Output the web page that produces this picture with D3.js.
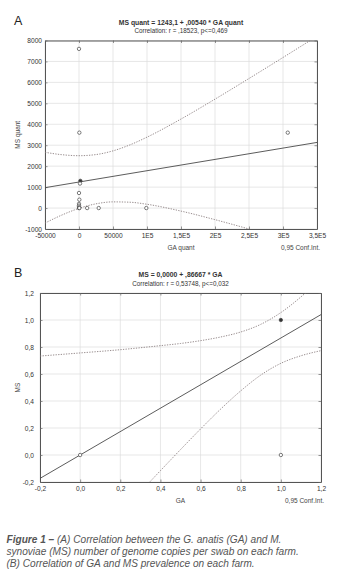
<!DOCTYPE html>
<html><head><meta charset="utf-8">
<script src="https://cdn.jsdelivr.net/npm/d3@7/dist/d3.min.js"></script>
<style>
body{margin:0;background:#fff}
svg{display:block}
text{font-family:"Liberation Sans",Arial,sans-serif}
</style>
</head><body>
<svg id="c" width="360" height="584"></svg>
<script>
// ---------- Panel A data ----------
const aXTicks = [-50000, 0, 50000, 100000, 150000, 200000, 250000, 300000, 350000];
const aXTickLabels = ["-50000", "0", "50000", "1E5", "1,5E5", "2E5", "2,5E5", "3E5", "3,5E5"];
const aYTicks = [-1000, 0, 1000, 2000, 3000, 4000, 5000, 6000, 7000, 8000];
const aYTickLabels = ["-1000", "0", "1000", "2000", "3000", "4000", "5000", "6000", "7000", "8000"];
const aGA = [0, 500, 307000, 2000, 2000, 1500, 0, 500, 0, 0, 0, 0, 0, 0, 500, 12000, 29000, 99000];
const aMS = [7600, 3600, 3600, 1300, 1300, 1170, 720, 400, 200, 120, 60, 0, 0, 0, 0, 0, 0, 0];
const aLineGA = [-50000, 350000];
const aLineMS = [973, 3133];
const aBandGA = [-50000, -25000, 0, 25000, 50000, 75000, 100000, 150000, 200000, 250000, 300000, 350000];
const aBandUpper = [2663, 2547, 2500, 2554, 2731, 3018, 3385, 4251, 5200, 6186, 7189, 8203];
const aBandLower = [-717, -331, -14, 202, 295, 278, 181, -145, -554, -1000, -1463, -1937];

// ---------- Panel B data ----------
const bTicks = [-0.2, 0, 0.2, 0.4, 0.6, 0.8, 1.0, 1.2];
const bTickLabels = ["-0,2", "0,0", "0,2", "0,4", "0,6", "0,8", "1,0", "1,2"];
const bGA = [0, 1, 1, 1, 1];
const bMS = [0, 1, 1, 1, 0];
const bLineGA = [-0.2, 1.2];
const bLineMS = [-0.1733, 1.04];
const bBandGA = [-0.2, 0, 0.2, 0.4, 0.5, 0.6, 0.7, 0.8, 0.9, 1.0, 1.1, 1.2];
const bBandUpper = [0.733, 0.756, 0.780, 0.810, 0.826, 0.847, 0.874, 0.911, 0.968, 1.055, 1.171, 1.307];
const bBandLower = [-1.08, -0.756, -0.434, -0.116, 0.040, 0.193, 0.340, 0.475, 0.592, 0.679, 0.735, 0.773];

const svg = d3.select("#c");

function panel(o) {
  const x = d3.scaleLinear().domain(o.xDomain).range([o.left, o.right]);
  const y = d3.scaleLinear().domain(o.yDomain).range([o.bottom, o.top]);
  const g = svg.append("g");
  const clipId = "clip" + o.id;
  svg.append("clipPath").attr("id", clipId).append("rect")
    .attr("x", o.left).attr("y", o.top).attr("width", o.right - o.left).attr("height", o.bottom - o.top);

  // grid
  g.append("g").selectAll("line").data(o.xTicks).join("line")
    .attr("x1", d => x(d)).attr("x2", d => x(d)).attr("y1", o.top).attr("y2", o.bottom)
    .attr("stroke", "#dcdcdc").attr("stroke-width", 0.7);
  g.append("g").selectAll("line").data(o.yTicks).join("line")
    .attr("y1", d => y(d)).attr("y2", d => y(d)).attr("x1", o.left).attr("x2", o.right)
    .attr("stroke", "#dcdcdc").attr("stroke-width", 0.7);

  // axes with inward ticks
  const ax = [
    d3.axisBottom(x).tickValues(o.xTicks).tickFormat((d, i) => o.xLabels[i]),
    d3.axisTop(x).tickValues(o.xTicks).tickFormat(""),
    d3.axisLeft(y).tickValues(o.yTicks).tickFormat((d, i) => o.yLabels[i]),
    d3.axisRight(y).tickValues(o.yTicks).tickFormat("")
  ];
  const gb = g.append("g").attr("transform", `translate(0,${o.bottom})`)
    .call(ax[0].tickSizeInner(-2.5).tickSizeOuter(0).tickPadding(o.xPad));
  const gt = g.append("g").attr("transform", `translate(0,${o.top})`)
    .call(ax[1].tickSizeInner(-2.5).tickSizeOuter(0));
  const gl = g.append("g").attr("transform", `translate(${o.left},0)`)
    .call(ax[2].tickSizeInner(-2.5).tickSizeOuter(0).tickPadding(o.yPad));
  const gr = g.append("g").attr("transform", `translate(${o.right},0)`)
    .call(ax[3].tickSizeInner(-2.5).tickSizeOuter(0));
  [gb, gt, gl, gr].forEach(s => {
    s.select(".domain").attr("stroke", "#555").attr("stroke-width", 1);
    s.selectAll(".tick line").attr("stroke", "#666").attr("stroke-width", 0.7);
    s.selectAll("text").attr("font-size", 6.6).attr("fill", "#333")
      .attr("font-family", '"Liberation Sans",Arial,sans-serif');
  });

  // band lines
  const cg = g.append("g").attr("clip-path", `url(#${clipId})`);
  const line = d3.line().x(d => x(d[0])).y(d => y(d[1])).curve(d3.curveMonotoneX);
  [o.bandUpper, o.bandLower].forEach(arr => {
    cg.append("path").datum(o.bandX.map((v, i) => [v, arr[i]]))
      .attr("d", line).attr("fill", "none").attr("stroke", "#85787a")
      .attr("stroke-width", 0.85).attr("stroke-dasharray", "1.3,1.3");
  });
  cg.append("path").datum(o.lineX.map((v, i) => [v, o.lineY[i]]))
    .attr("d", d3.line().x(d => x(d[0])).y(d => y(d[1])))
    .attr("fill", "none").attr("stroke", "#4a4a4a").attr("stroke-width", 0.9);

  // points (overlapping points drawn filled)
  const pts = o.px.map((v, i) => [v, o.py[i]]);
  const counts = d3.rollup(pts, v => v.length, d => d[0] + "|" + d[1]);
  const uniq = Array.from(counts, ([k, c]) => { const [a, b] = k.split("|"); return [+a, +b, c]; });
  g.append("g").selectAll("circle").data(uniq).join("circle")
    .attr("cx", d => x(d[0])).attr("cy", d => y(d[1])).attr("r", 1.7)
    .attr("fill", d => d[2] > 1 ? "#333" : "#fff").attr("stroke", "#444").attr("stroke-width", 0.7);

  // titles
  const cx = (o.left + o.right) / 2;
  svg.append("text").attr("x", cx).attr("y", o.top - 16).attr("text-anchor", "middle")
    .attr("font-size", 6.8).attr("font-weight", "bold").attr("fill", "#333").text(o.title1);
  svg.append("text").attr("x", cx).attr("y", o.top - 7.5).attr("text-anchor", "middle")
    .attr("font-size", 6.3).attr("fill", "#333").text(o.title2);
  svg.append("text").attr("x", 14).attr("y", o.top - 16).attr("font-size", 12.5).attr("fill", "#222").text(o.letter);
  svg.append("text").attr("x", cx).attr("y", o.bottom + 21).attr("text-anchor", "middle")
    .attr("font-size", 6.5).attr("fill", "#444").text(o.xTitle);
  svg.append("text").attr("x", o.right + 3).attr("y", o.bottom + 21).attr("text-anchor", "end")
    .attr("font-size", 6.5).attr("fill", "#444").text("0,95 Conf.Int.");
  svg.append("text").attr("transform", `translate(${o.yTitleX},${(o.top + o.bottom) / 2}) rotate(-90)`)
    .attr("text-anchor", "middle").attr("font-size", 6.5).attr("fill", "#444").text(o.yTitle);
}

panel({
  id: "A", left: 45, right: 317, top: 40.5, bottom: 229,
  xDomain: [-50000, 350000], yDomain: [-1000, 8000],
  xTicks: aXTicks, xLabels: aXTickLabels, yTicks: aYTicks, yLabels: aYTickLabels,
  xPad: 4, yPad: 3,
  px: aGA, py: aMS, lineX: aLineGA, lineY: aLineMS,
  bandX: aBandGA, bandUpper: aBandUpper, bandLower: aBandLower,
  title1: "MS quant = 1243,1 + ,00540 * GA quant",
  title2: "Correlation: r = ,18523, p<=0,469",
  letter: "A", xTitle: "GA quant", yTitle: "MS quant", yTitleX: 20
});

panel({
  id: "B", left: 40, right: 321, top: 293, bottom: 482,
  xDomain: [-0.2, 1.2], yDomain: [-0.2, 1.2],
  xTicks: bTicks, xLabels: bTickLabels, yTicks: bTicks, yLabels: bTickLabels,
  xPad: 4, yPad: 6,
  px: bGA, py: bMS, lineX: bLineGA, lineY: bLineMS,
  bandX: bBandGA, bandUpper: bBandUpper, bandLower: bBandLower,
  title1: "MS = 0,0000 + ,86667 * GA",
  title2: "Correlation: r = 0,53748, p<=0,032",
  letter: "B", xTitle: "GA", yTitle: "MS", yTitleX: 20
});

// caption
const capLines = [
  [["Figure 1 – ", true], ["(A) Correlation between the G. anatis (GA) and M.", false]],
  [["synoviae (MS) number of genome copies per swab on each farm.", false]],
  [["(B) Correlation of GA and MS prevalence on each farm.", false]]
];
capLines.forEach((ln, i) => {
  const t = svg.append("text").attr("x", 6.5).attr("y", 543 + i * 12)
    .attr("font-size", 10.1).attr("font-style", "italic").attr("fill", "#555");
  ln.forEach(([s, b]) => t.append("tspan").attr("font-weight", b ? "bold" : "normal").text(s));
});
</script>
</body></html>
